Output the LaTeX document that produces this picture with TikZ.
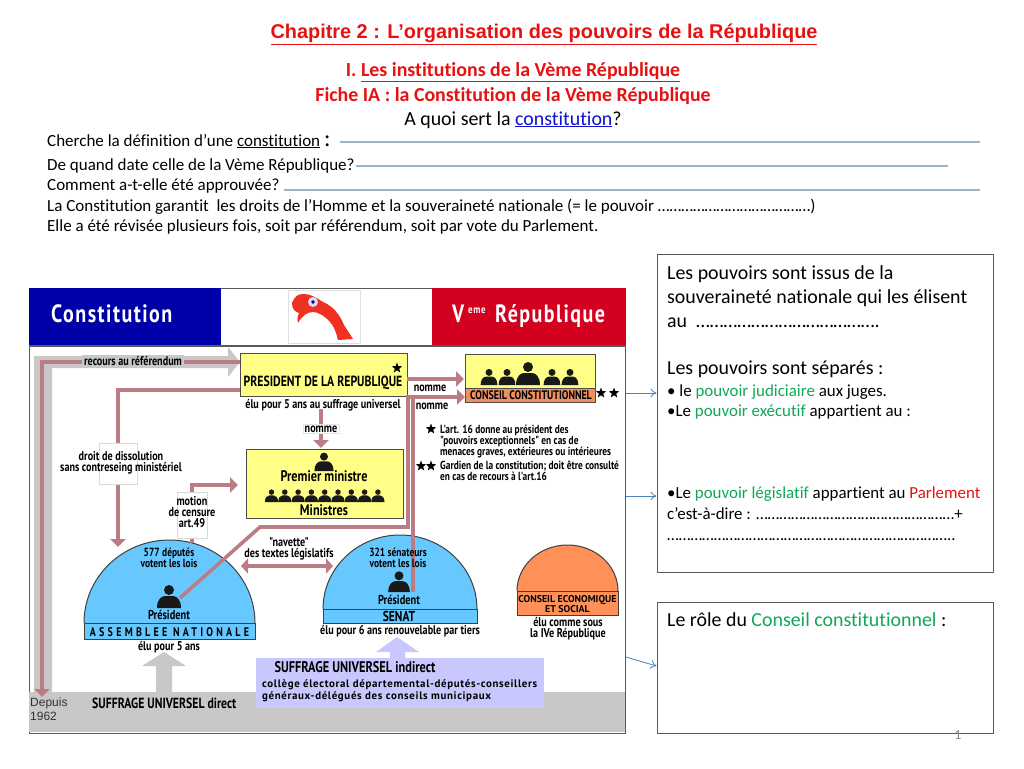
\documentclass[tikz,border=0pt]{standalone}
\usepackage{fontspec}
\setmainfont[Ligatures=NoCommon]{Carlito}
\newfontfamily\arialfont{Liberation Sans}
\newfontfamily\ptfont{PT Sans}
\newfontfamily\dinfont[FakeStretch=0.8]{PT Sans}
\newfontfamily\dinwide[LetterSpace=6]{PT Sans}
\newfontfamily\dinspaced[FakeStretch=0.8,LetterSpace=26]{PT Sans}
\newfontfamily\dinhead[FakeStretch=0.8,LetterSpace=6]{PT Sans}
\usetikzlibrary{shapes.geometric,arrows.meta}

\definecolor{headblue}{HTML}{0000A8}
\definecolor{headred}{HTML}{D40020}
\definecolor{logored}{HTML}{F03020}
\definecolor{bandgrey}{HTML}{C8C8C8}
\definecolor{linkred}{HTML}{BC7C84}
\definecolor{boxyellow}{HTML}{FFFF88}
\definecolor{domeblue}{HTML}{66C8FF}
\definecolor{domeorange}{HTML}{FF9058}
\definecolor{bandorange}{HTML}{F09060}
\definecolor{lavender}{HTML}{C8C8FF}
\definecolor{ruleblue}{HTML}{9DB3CC}
\definecolor{arrowblue}{HTML}{4F81BD}
\definecolor{titlered}{HTML}{E81010}
\definecolor{termgreen}{HTML}{10A858}
\definecolor{linkblue}{HTML}{1010D0}

\newcommand{\din}[1]{\fontsize{#1}{#1}\selectfont\dinfont\bfseries}

\begin{document}
\begin{tikzpicture}
    [ x = 1pt
    , y = -1pt
    , page/.style =
      { anchor=base west, inner sep=0pt }
    , pagemid/.style =
      { anchor=base, inner sep=0pt }
    , lbl/.style =
      { anchor=base, inner sep=0pt, font=\din{12.7} }
    , lblw/.style =
      { lbl, anchor=base west }
    , notetxt/.style =
      { lblw, font=\din{11.7} }
    , whitebox/.style =
      { draw=black!15, fill=white, inner sep=0pt }
    , panel/.style =
      { draw=black!65, line width=1pt, fill=white, inner sep=0pt }
    , ybox/.style =
      { draw=black!70, line width=1pt, fill=boxyellow, inner sep=0pt }
    , blackstar/.style =
      { star, star points=5, star point ratio=2.4, fill=black, inner sep=0pt, minimum size=11pt }
    , writeline/.style =
      { ruleblue, line width=1.2pt }
    , link/.style =
      { linkred, line width=3.6pt, line join=miter }
    , linkarrow/.style =
      { link, -{Triangle[width=15pt,length=8pt]} }
    , bluearrow/.style =
      { arrowblue, line width=.8pt, -{To[length=6pt,width=9pt]} }
    , dome/.style =
      { draw=black!75, line width=1pt }
    , person/.pic =
      { \fill [black!90] (0,-18) circle (5);
        \fill [black!90] (-12,0) .. controls (-12,-8) and (-8,-12) .. (-4,-12)
          -- (4,-12) .. controls (8,-12) and (12,-8) .. (12,0) -- cycle;
      }
    ]
    \useasboundingbox (0,0) rectangle (1024,768);
    \fill [white] (0,0) rectangle (1024,768);

    % en-tete
    \node [pagemid,titlered,font=\fontsize{19.9}{18}\selectfont\arialfont\bfseries] (titre) at (544,38.5)
      {\underline{Chapitre 2 : L’organisation des pouvoirs de la République}};
    \node [pagemid,titlered,font=\fontsize{19.9}{18}\selectfont\bfseries] (partie) at (513,77)
      {I. \underline{Les institutions de la Vème République}};
    \node [pagemid,titlered,font=\fontsize{19.9}{18}\selectfont\bfseries] (fiche) at (513,101)
      {Fiche IA : la Constitution de la Vème République};
    \node [pagemid,font=\fontsize{19.9}{18}\selectfont] (question) at (513,125)
      {A quoi sert la \textcolor{linkblue}{\underline{constitution}}?};
    \node [page,font=\fontsize{17}{16}\selectfont] (ligne1) at (47,146)
      {Cherche la définition d’une \underline{constitution} \raisebox{0pt}{\fontsize{24}{22}\selectfont :}};
    \node [page,font=\fontsize{17}{16}\selectfont] (ligne2) at (47,170)
      {De quand date celle de la Vème République?};
    \node [page,font=\fontsize{17}{16}\selectfont] (ligne3) at (47,190)
      {Comment a-t-elle été approuvée?};
    \node [page,font=\fontsize{17}{16}\selectfont] (ligne4) at (47,211)
      {La Constitution garantit\ \ les droits de l’Homme et la souveraineté nationale (= le pouvoir …………………………………)};
    \node [page,font=\fontsize{17}{16}\selectfont] (ligne5) at (47,231)
      {Elle a été révisée plusieurs fois, soit par référendum, soit par vote du Parlement.};

    \coordinate (r1a) at (340,142); \coordinate (r1b) at (980,142);
    \coordinate (r2a) at (356,166); \coordinate (r2b) at (948,166);
    \coordinate (r3a) at (284,190); \coordinate (r3b) at (980,190);
    \draw [writeline] (r1a) -- (r1b);
    \draw [writeline] (r2a) -- (r2b);
    \draw [writeline] (r3a) -- (r3b);

    % schema : fond et bandeaux
    \draw [black!65, line width=1pt, fill=white] (29,288) rectangle (625.5,733);
    \fill [bandgrey] (29,692) rectangle (625,732);
    \fill [black!65] (29,344.5) rectangle (626,347);
    \fill [headblue] (29,288) rectangle (221,345);
    \fill [headred] (432,288) rectangle (625.5,345);
    \node [anchor=base west,inner sep=0pt,white,font=\fontsize{25}{25}\selectfont\dinhead\bfseries] (constitution) at (51,322) {Constitution};
    \node [anchor=base west,inner sep=0pt,white,font=\fontsize{25}{25}\selectfont\dinhead\bfseries] (republique) at (495,322) {République};
    \node [anchor=base west,inner sep=0pt,white,font=\fontsize{25}{25}\selectfont\dinhead\bfseries] (vroman) at (452,322) {V};
    \node [anchor=base west,inner sep=0pt,white,font=\fontsize{11}{11}\selectfont\dinhead\bfseries] (eme) at (468,313) {eme};

    % logo
    \draw [black!12, fill=white] (288,290) rectangle (360,343);
    \fill [logored] (292,303) .. controls (295,296) and (298,294) .. (303,294)
      .. controls (312,294) and (318,299) .. (323,302)
      .. controls (333,306) and (340,315) .. (344,325)
      -- (353,339) -- (338,340)
      .. controls (336,332) and (334,326) .. (330,322)
      .. controls (325,316) and (318,312) .. (313,312)
      .. controls (307,312) and (302,316) .. (298,323)
      .. controls (297,318) and (298,315) .. (299,313)
      .. controls (295,312) and (292,309) .. (292,303) -- cycle;
    \fill [white!85!blue] (313,302) circle (5);
    \fill [black!60!blue] (313,302) circle (1.8);

    % grandes fleches grises
    \fill [bandgrey] (34,692) -- (34,356) -- (228,356) -- (228,347) -- (240,362)
      -- (228,377) -- (228,368) -- (52,368) -- (52,692) -- cycle;
    \fill [bandgrey] (156,692) -- (156,666) -- (142,666) -- (164,652)
      -- (186,666) -- (172,666) -- (172,692) -- cycle;
    \fill [lavender] (390,660) -- (390,652) -- (376,652) -- (397,637)
      -- (419,652) -- (405,652) -- (405,660) -- cycle;

    % boites
    \node [ybox,minimum width=167pt,minimum height=43pt] (president) at (323.5,374.5) {};
    \node [ybox,minimum width=157pt,minimum height=69pt] (premier) at (324.5,483.5) {};
    \node [ybox,minimum width=130pt,minimum height=34pt] (conseil) at (530,371) {};
    \node [draw=black!70,line width=1pt,fill=bandorange,inner sep=0pt,minimum width=130pt,minimum height=14pt] (conseilband) at (530,395) {};

    % demi-cercles
    \draw [dome,fill=domeblue] (84,623) arc [start angle=180,end angle=0,x radius=85.5,y radius=-83];
    \node [dome,fill=domeblue,inner sep=0pt,minimum width=171pt,minimum height=16pt] (anband) at (169.5,631) {};
    \draw [dome,fill=domeblue] (323,609) arc [start angle=180,end angle=0,x radius=77,y radius=-74];
    \node [dome,fill=domeblue,inner sep=0pt,minimum width=154pt,minimum height=14pt] (senatband) at (400,616) {};
    \draw [dome,fill=domeorange] (517,591) arc [start angle=180,end angle=0,x radius=50.5,y radius=-46];
    \node [dome,fill=domeorange,inner sep=0pt,minimum width=101pt,minimum height=24pt] (cesband) at (567.5,603) {};

    % liens
    \coordinate (refa) at (42,697);
    \coordinate (refb) at (42,362);
    \coordinate (dissa) at (118,390);
    \coordinate (dissb) at (118,547);
    \coordinate (nomma) at (321,409);
    \coordinate (nommb) at (321,448);
    \coordinate (cna) at (407,379);
    \coordinate (cnb) at (464,379);
    \coordinate (pra) at (180,598);
    \coordinate (prb) at (260,527);
    \coordinate (prc) at (408,527);
    \coordinate (prd) at (408,397);
    \coordinate (pre) at (465,397);
    \coordinate (sea) at (413,592);
    \coordinate (seb) at (413,397);
    \coordinate (mota) at (192,492);
    \coordinate (motb) at (192,485);
    \coordinate (motc) at (238,485);
    \coordinate (motd) at (192,538);
    \coordinate (mote) at (192,543);
    \coordinate (nava) at (241,566);
    \coordinate (navb) at (333,566);

    \draw [linkarrow] (240,362) -- (refb) -- (refa);
    \draw [linkarrow] (president.west |- dissa) -- (dissa) -- (dissb);
    \draw [linkarrow] (nomma) -- (nommb);
    \draw [linkarrow] (cna) -- (cnb);
    \draw [linkarrow] (pra) -- (prb) -- (prc) -- (prd) -- (pre);
    \draw [link] (sea) -- (seb);
    \draw [linkarrow] (mota) -- (motb) -- (motc);
    \draw [link] (motd) -- (mote);
    \draw [link, {Triangle[width=15pt,length=7pt]}-{Triangle[width=15pt,length=7pt]}] (nava) -- (navb);

    % etiquettes sur les liens
    \node [lbl,fill=bandgrey,inner xsep=2pt,inner ysep=1pt] (recours) at (133,365) {recours au référendum};
    \node [whitebox,minimum width=38pt,minimum height=41pt] (dissbox) at (118,463.5) {};
    \node [lbl] (diss1) at (121,460) {droit de dissolution};
    \node [lbl] (diss2) at (121,471) {sans contreseing ministériel};
    \node [whitebox,minimum width=30pt,minimum height=46pt] (motbox) at (192,515) {};
    \node [lbl] (mot1) at (192,505) {motion};
    \node [lbl] (mot2) at (192,516) {de censure};
    \node [lbl] (mot3) at (192,527) {art.49};
    \node [lbl,fill=white,inner xsep=2pt,inner ysep=1.5pt,draw=black!10] (nomme) at (321,432) {nomme};
    \node [lbl] (nommec) at (430,391) {nomme};
    \node [lbl] (nommeb) at (432,409) {nomme};
    \node [lbl] (nav1) at (289,546) {"navette"};
    \node [lbl] (nav2) at (289,557) {des textes législatifs};

    % textes des boites
    \node [blackstar] (etoile) at (397,368) {};
    \node [lbl,font=\din{14.7}] (presidenttxt) at (323,386) {PRESIDENT DE LA REPUBLIQUE};
    \node [lbl] (presidentel) at (323,408) {élu pour 5 ans au suffrage universel};
    \pic [scale=.8] at (324,471) {person={}};
    \node [lbl,font=\din{15.3}] (premiertxt) at (324,481) {Premier ministre};
    \foreach \i in {0,...,8}
      \pic [scale=.55] at (271.5+\i*13.3,502) {person={}};
    \node [lbl,font=\din{15.3}] (ministres) at (324,515) {Ministres};
    \pic [scale=.7] at (489,385) {person={}};
    \pic [scale=.7] at (507,385) {person={}};
    \pic at (528,385) {person={}};
    \pic [scale=.7] at (552,385) {person={}};
    \pic [scale=.7] at (570,385) {person={}};
    \node [lbl,font=\din{12.4}] (conseiltxt) at (531,399) {CONSEIL CONSTITUTIONNEL};
    \node [blackstar] (etoilea) at (601,393) {};
    \node [blackstar] (etoileb) at (614,393) {};

    % notes
    \node [blackstar] (noteetoile) at (431,429) {};
    \node [notetxt] (note1) at (440,433) {L'art. 16 donne au président des};
    \node [notetxt] (note2) at (440,444) {"pouvoirs exceptionnels" en cas de};
    \node [notetxt] (note3) at (440,455) {menaces graves, extérieures ou intérieures};
    \node [blackstar] (noteetoilea) at (421,466) {};
    \node [blackstar] (noteetoileb) at (431,466) {};
    \node [notetxt] (note4) at (440,469) {Gardien de la constitution; doit être consulté};
    \node [notetxt] (note5) at (440,480) {en cas de recours à l'art.16};

    % assemblee
    \node [lbl,font=\din{11.8}] (an1) at (169,556) {577 députés};
    \node [lbl,font=\din{11.8}] (an2) at (169,567) {votent les lois};
    \pic at (169,608) {person={}};
    \node [lbl,font=\din{13}] (anpres) at (169,619) {Président};
    \node [anchor=base,inner sep=0pt,font=\fontsize{12.5}{12.5}\selectfont\dinspaced\bfseries] (antxt) at (169.5,636) {ASSEMBLEE NATIONALE};
    \node [lbl] (anel) at (169,650) {élu pour 5 ans};

    % senat
    \node [lbl,font=\din{11.8}] (se1) at (398,556) {321 sénateurs};
    \node [lbl,font=\din{11.8}] (se2) at (398,567) {votent les lois};
    \pic [scale=.9] at (399,592) {person={}};
    \node [lbl,font=\din{13}] (sepres) at (399,604) {Président};
    \node [lbl,font=\din{14.4}] (setxt) at (399,621) {SENAT};
    \node [lbl] (seel) at (400,634) {élu pour 6 ans renouvelable par tiers};

    % conseil economique
    \node [lbl,font=\fontsize{9.9}{9.9}\selectfont\ptfont\bfseries] (ces1) at (567.5,602) {CONSEIL ECONOMIQUE};
    \node [lbl,font=\fontsize{9.9}{9.9}\selectfont\ptfont\bfseries] (ces2) at (567.5,612) {ET SOCIAL};
    \node [lbl] (cesel1) at (568,626) {élu comme sous};
    \node [lbl] (cesel2) at (568,637) {la IVe République};

    % suffrage
    \node [fill=lavender,inner sep=0pt,minimum width=288pt,minimum height=50pt] (indirect) at (400,683) {};
    \node [lbl,font=\din{15.4}] (ind1) at (355,672) {SUFFRAGE UNIVERSEL indirect};
    \node [lblw,font=\fontsize{10.9}{10.9}\selectfont\dinwide\bfseries] (ind2) at (262,687) {collège électoral départemental-députés-conseillers};
    \node [lblw,font=\fontsize{10.9}{10.9}\selectfont\dinwide\bfseries] (ind3) at (262,699) {généraux-délégués des conseils municipaux};
    \node [lblw,font=\din{14.7}] (direct) at (92,708) {SUFFRAGE UNIVERSEL direct};
    \node [page,black!80,font=\fontsize{12}{12}\selectfont\arialfont] (depuis) at (30,706) {Depuis};
    \node [page,black!80,font=\fontsize{12}{12}\selectfont\arialfont] (annee) at (30,720) {1962};

    % panneaux de droite
    \node [panel,minimum width=336pt,minimum height=318pt] (pouvoirs) at (825,413) {};
    \node [panel,minimum width=336pt,minimum height=131pt] (role) at (825,667.5) {};
    \node [page,font=\fontsize{19.9}{18}\selectfont] (p1) at (667,279) {Les pouvoirs sont issus de la};
    \node [page,font=\fontsize{19.9}{18}\selectfont] (p2) at (667,303) {souveraineté nationale qui les élisent};
    \node [page,font=\fontsize{19.9}{18}\selectfont] (p3) at (667,327) {au\ \ ………………………………….};
    \node [page,font=\fontsize{19.9}{18}\selectfont] (p4) at (667,374) {Les pouvoirs sont séparés :};
    \node [page,font=\fontsize{16.9}{14.5}\selectfont] (p5) at (667,396)
      {• le \textcolor{termgreen}{pouvoir judiciaire} aux juges.};
    \node [page,font=\fontsize{16.9}{14.5}\selectfont] (p6) at (667,416)
      {•Le \textcolor{termgreen}{pouvoir exécutif} appartient au :};
    \node [page,font=\fontsize{16.9}{14.5}\selectfont] (p7) at (667,498)
      {•Le \textcolor{termgreen}{pouvoir législatif} appartient au \textcolor{titlered}{Parlement}};
    \node [page,font=\fontsize{16.9}{14.5}\selectfont] (p8) at (667,519)
      {c’est-à-dire : ……………………………………………+};
    \node [page,font=\fontsize{16.9}{14.5}\selectfont] (p9) at (667,540)
      {………………………………………………………………..};
    \node [page,font=\fontsize{19.9}{18}\selectfont] (r1) at (667,626)
      {Le rôle du \textcolor{termgreen}{Conseil constitutionnel} :};
    \node [pagemid,black!45,font=\fontsize{14}{14}\selectfont] (numero) at (958,739) {1};

    \coordinate (ba) at (626,393);
    \coordinate (bb) at (626,496);
    \coordinate (bc) at (626,657);
    \draw [bluearrow] (ba) -- (pouvoirs.west |- ba);
    \draw [bluearrow] (bb) -- (pouvoirs.west |- bb);
    \draw [bluearrow] (bc) -- (role.west |- 0,666);
  \end{tikzpicture}
\end{document}
